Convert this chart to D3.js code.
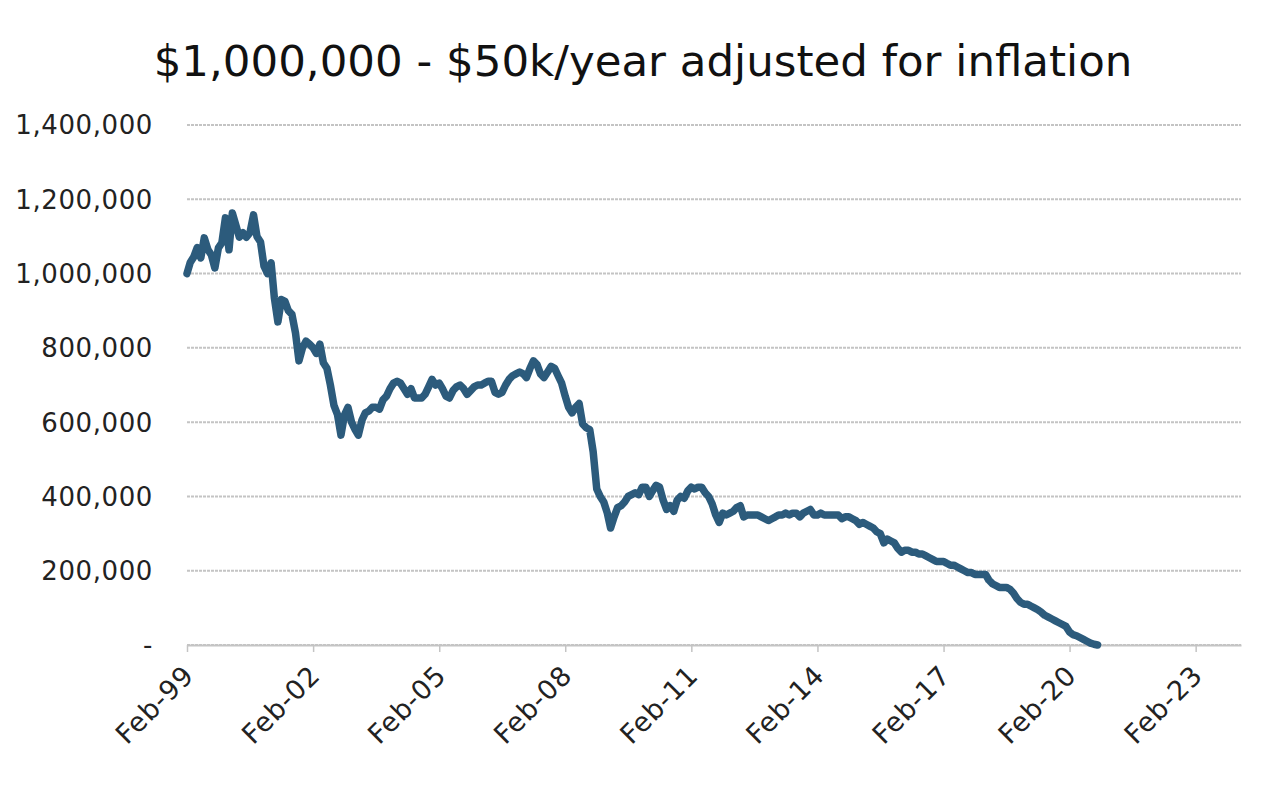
<!DOCTYPE html>
<html>
<head>
<meta charset="utf-8">
<script src="https://cdn.jsdelivr.net/npm/d3@7"></script>
<style>
  body { margin: 0; background: #fff; }
  svg { display: block; font-family: "DejaVu Sans", sans-serif; }
</style>
</head>
<body>
<svg id="chart"></svg>
<script>
let W = 1264, H = 786

// data: month-end balance (thousands of $), one value a month starting Feb-1999
let startMonth = '1999-02'
let balance = [
  1000, 1030, 1045, 1070, 1042, 1096, 1065, 1050, 1015, 1069,
  1083, 1150, 1064, 1163, 1130, 1098, 1110, 1098, 1110, 1158,
  1100, 1085, 1020, 1000, 1029, 935, 870, 930, 925, 900,
  890, 840, 765, 800, 818, 810, 800, 785, 810, 760,
  745, 700, 645, 620, 565, 620, 640, 600, 580, 565,
  605, 625, 630, 640, 640, 635, 660, 670, 690, 705,
  710, 705, 690, 675, 690, 665, 665, 665, 675, 695,
  715, 700, 705, 690, 670, 665, 685, 695, 700, 690,
  675, 685, 695, 700, 700, 705, 710, 710, 680, 675,
  680, 700, 715, 725, 730, 735, 730, 720, 745, 765,
  755, 730, 720, 735, 750, 745, 725, 705, 670, 640,
  625, 640, 650, 595, 585, 580, 520, 420, 400, 385,
  355, 315, 345, 370, 375, 385, 400, 405, 410, 405,
  425, 425, 400, 415, 430, 425, 390, 365, 375, 360,
  390, 400, 395, 415, 425, 420, 425, 425, 410, 400,
  380, 350, 330, 355, 350, 355, 360, 370, 375, 345,
  350, 350, 350, 350, 345, 340, 335, 340, 345, 350,
  350, 355, 350, 355, 355, 345, 355, 360, 365, 350,
  350, 355, 350, 350, 350, 350, 350, 340, 345, 345,
  340, 335, 325, 330, 325, 320, 315, 305, 300, 275,
  285, 280, 275, 260, 250, 255, 255, 250, 250, 245,
  245, 240, 235, 230, 225, 225, 225, 220, 215, 215,
  210, 205, 200, 195, 195, 190, 190, 190, 190, 175,
  165, 160, 155, 155, 155, 150, 140, 125, 115, 110,
  110, 105, 100, 95, 88, 80, 75, 70, 65, 60,
  55, 50, 35, 28, 25, 20, 15, 10, 5, 2,
  0
]
let yTicks = [0, 200000, 400000, 600000, 800000, 1000000, 1200000, 1400000]
let xTickLabels = ['Feb-99', 'Feb-02', 'Feb-05', 'Feb-08', 'Feb-11', 'Feb-14', 'Feb-17', 'Feb-20', 'Feb-23']
let title = '$1,000,000 - $50k/year adjusted for inflation'

let parseMonth = d3.timeParse('%Y-%m')
let parseTick = d3.timeParse('%b-%y')
let t0 = parseMonth(startMonth)
let data = balance.map((v, i) => ({ date: d3.timeMonth.offset(t0, i), value: v * 1000 }))

let svg = d3.select('#chart').attr('width', W).attr('height', H)

let x = d3.scaleTime()
  .domain([t0, d3.timeMonth.offset(t0, 301)])
  .range([187, 1241])
let y = d3.scaleLinear().domain([0, 1400000]).range([645, 125])

//gridlines
svg.append('g').selectAll('line')
  .data(yTicks)
  .enter().append('line')
  .attr('x1', 187).attr('x2', 1241)
  .attr('y1', d => y(d)).attr('y2', d => y(d))
  .attr('stroke', '#c4c4c4')
  .attr('stroke-width', 2)
  .attr('stroke-dasharray', '3,1')

//y labels
svg.append('g').selectAll('text')
  .data(yTicks)
  .enter().append('text')
  .attr('x', 153)
  .attr('y', d => y(d))
  .attr('dy', '0.36em')
  .attr('text-anchor', 'end')
  .attr('font-size', 26)
  .attr('letter-spacing', 0.6)
  .attr('fill', '#222')
  .text(d => d === 0 ? '-' : d3.format(',')(d))

//x axis
let xAxis = d3.axisBottom(x)
  .tickValues(xTickLabels.map(parseTick))
  .tickFormat(d3.timeFormat('%b-%y'))
  .tickSize(7)
  .tickSizeOuter(0)
let gx = svg.append('g').attr('transform', 'translate(0,645)').call(xAxis)
gx.select('.domain').attr('stroke', '#c4c4c4').attr('stroke-width', 2)
gx.selectAll('.tick line').attr('stroke', '#c4c4c4').attr('stroke-width', 1.5)
gx.selectAll('.tick text')
  .attr('font-family', '"DejaVu Sans", sans-serif')
  .attr('font-size', 27)
  .attr('letter-spacing', 0.8)
  .attr('fill', '#222')
  .attr('text-anchor', 'end')
  .attr('dy', null)
  .attr('y', 0)
  .attr('transform', 'translate(8,32) rotate(-45)')

//line
let line = d3.line().x(d => x(d.date)).y(d => y(d.value))
svg.append('path')
  .datum(data)
  .attr('d', line)
  .attr('fill', 'none')
  .attr('stroke', '#2c5b7c')
  .attr('stroke-width', 7.5)
  .attr('stroke-linejoin', 'round')
  .attr('stroke-linecap', 'round')

//title
svg.append('text')
  .attr('x', 643).attr('y', 76)
  .attr('text-anchor', 'middle')
  .attr('font-size', 43.5)
  .attr('fill', '#111')
  .text(title)
</script>
</body>
</html>
